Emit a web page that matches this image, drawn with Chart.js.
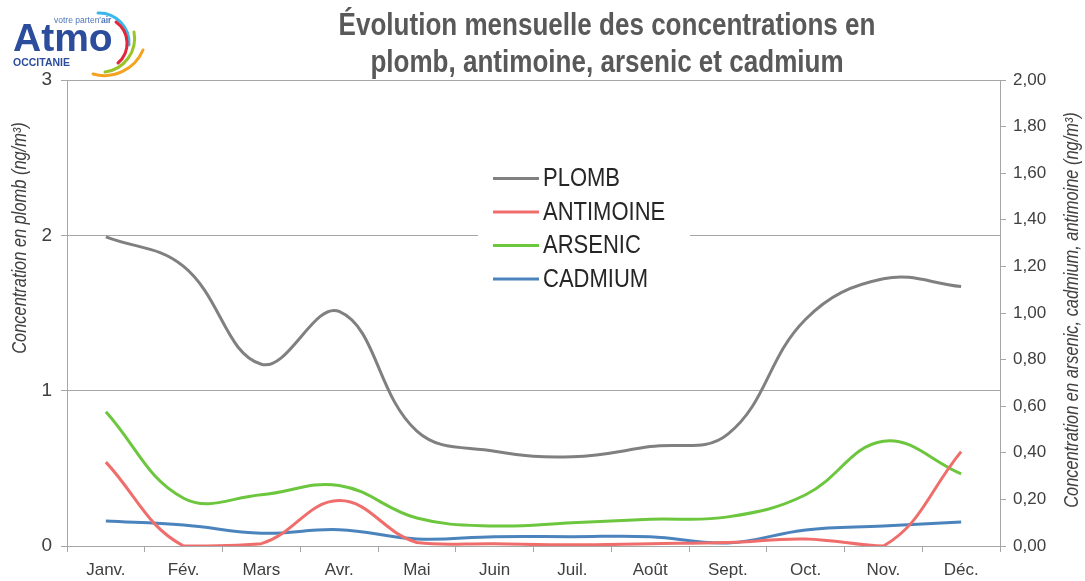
<!DOCTYPE html>
<html lang="fr">
<head>
<meta charset="utf-8">
<script src="https://cdn.jsdelivr.net/npm/chart.js@4"></script>
<style>
  html, body { margin: 0; padding: 0; background: #fff; }
  #wrap { position: relative; width: 1085px; height: 581px; }
  #chart { position: absolute; left: 0; top: 0; }
  #title {
    position: absolute; left: 207px; top: 6px; width: 800px;
    text-align: center; color: #595959; white-space: nowrap;
    font: bold 31px "Liberation Sans", sans-serif;
    line-height: 37px;
    transform: scaleX(0.84); transform-origin: 50% 0;
  }
  #logo { position: absolute; left: 0; top: 0; }
</style>
</head>
<body>
<div id="wrap">
  <canvas id="chart" width="1085" height="581"></canvas>
  <svg id="logo" width="160" height="85" viewBox="0 0 160 85">
    <path d="M98 13 A30 30 0 0 1 129 45" fill="none" stroke="#3bb8e8" stroke-width="3" stroke-linecap="round"/>
    <path d="M116 22 A26 26 0 0 1 118 63" fill="none" stroke="#e3263c" stroke-width="3" stroke-linecap="round"/>
    <path d="M134 32 A34 34 0 0 1 105 72" fill="none" stroke="#9ac52a" stroke-width="3" stroke-linecap="round"/>
    <path d="M143 50 A42 42 0 0 1 93 74" fill="none" stroke="#f4a21f" stroke-width="3" stroke-linecap="round"/>
    <text x="13" y="51" font-family="Liberation Sans, sans-serif" font-weight="bold" font-size="39" fill="#2c4d9c">Atmo</text>
    <text x="54" y="23" font-family="Liberation Sans, sans-serif" font-size="8.5" fill="#4d75bb">votre parten'<tspan font-weight="bold">air</tspan></text>
    <text x="13" y="66" font-family="Liberation Sans, sans-serif" font-weight="bold" font-size="10.5" fill="#2c4d9c">OCCITANIE</text>
  </svg>
  <div id="title">Évolution mensuelle des concentrations en<br>plomb, antimoine, arsenic et cadmium</div>
</div>
<script>
// --- data ---
const months = ['Janv.', 'Fév.', 'Mars', 'Avr.', 'Mai', 'Juin', 'Juil.', 'Août', 'Sept.', 'Oct.', 'Nov.', 'Déc.'];
const plomb = [1.99, 1.80, 1.17, 1.51, 0.74, 0.61, 0.575, 0.64, 0.72, 1.46, 1.72, 1.67];
const antimoine = [0.36, 0.0, 0.01, 0.195, 0.015, 0.01, 0.005, 0.01, 0.015, 0.03, 0.0, 0.405];
const arsenic = [0.576, 0.205, 0.22, 0.26, 0.12, 0.086, 0.10, 0.115, 0.125, 0.22, 0.45, 0.31];
const cadmium = [0.107, 0.09, 0.055, 0.07, 0.03, 0.04, 0.04, 0.04, 0.013, 0.069, 0.086, 0.103];
const leftTicks = [0, 1, 2, 3];
const rightTicks = [0, 0.2, 0.4, 0.6, 0.8, 1.0, 1.2, 1.4, 1.6, 1.8, 2.0];

const FONT = '"Liberation Sans", sans-serif';
const AXIS = '#a6a6a6';
const TEXT = '#404040';

// legend box drawn inside the plot, over the gridline at 2
const legendBox = {
  id: 'legendBox',
  afterDraw(chart) {
    const ctx = chart.ctx;
    ctx.save();
    ctx.fillStyle = '#fff';
    ctx.fillRect(478, 160, 212, 138);
    ctx.font = '25px ' + FONT;
    ctx.textBaseline = 'middle';
    chart.data.datasets.forEach((ds, i) => {
      const y = 178.5 + i * 33.5;
      ctx.strokeStyle = ds.borderColor;
      ctx.lineWidth = 3;
      ctx.beginPath();
      ctx.moveTo(493, y);
      ctx.lineTo(539, y);
      ctx.stroke();
      // narrow look of the original font
      ctx.save();
      ctx.translate(543, y + 1);
      ctx.scale(0.88, 1);
      ctx.fillStyle = '#262626';
      ctx.fillText(ds.label, 0, 0);
      ctx.restore();
    });
    ctx.restore();
  }
};

// rotated axis titles
function drawVertical(ctx, text, x, y) {
  ctx.save();
  ctx.fillStyle = TEXT;
  ctx.font = 'italic 20px ' + FONT;
  ctx.textAlign = 'center';
  ctx.textBaseline = 'middle';
  ctx.translate(x, y);
  ctx.rotate(-Math.PI / 2);
  ctx.scale(0.82, 1);
  ctx.fillText(text, 0, 0);
  ctx.restore();
}

const axisTitles = {
  id: 'axisTitles',
  afterDraw(chart) {
    drawVertical(chart.ctx, 'Concentration en plomb (ng/m³)', 20, 238);
    drawVertical(chart.ctx, 'Concentration en arsenic, cadmium, antimoine (ng/m³)', 1072, 310);
  }
};

const line = (label, data, color, axis) => ({
  label, data, yAxisID: axis,
  borderColor: color, backgroundColor: color,
  borderWidth: 3, pointRadius: 0, tension: 0.4, fill: false
});

new Chart(document.getElementById('chart'), {
  type: 'line',
  data: {
    labels: months,
    datasets: [
      line('PLOMB', plomb, '#808080', 'y'),
      line('ANTIMOINE', antimoine, '#ef6e6c', 'y1'),
      line('ARSENIC', arsenic, '#6cc63e', 'y1'),
      line('CADMIUM', cadmium, '#4b84bd', 'y1')
    ]
  },
  options: {
    responsive: false,
    animation: false,
    layout: { padding: { top: 80, left: 0, right: 0, bottom: 0 } },
    plugins: { legend: { display: false }, tooltip: { enabled: false } },
    scales: {
      x: {
        offset: true,
        grid: { offset: true, drawOnChartArea: false, color: AXIS, tickLength: 6 },
        border: { color: AXIS },
        ticks: { color: TEXT, font: { family: FONT, size: 17 }, padding: 8, maxRotation: 0 },
        afterFit: s => { s.height = 35; }
      },
      y: {
        position: 'left',
        min: 0, max: 3,
        afterBuildTicks: s => { s.ticks = leftTicks.map(v => ({ value: v })); },
        grid: { color: AXIS, tickLength: 6 },
        border: { color: AXIS },
        ticks: { color: TEXT, font: { family: FONT, size: 19 }, padding: 9 },
        afterFit: s => { s.width = 67; }
      },
      y1: {
        position: 'right',
        min: 0, max: 2,
        afterBuildTicks: s => { s.ticks = rightTicks.map(v => ({ value: v })); },
        grid: { drawOnChartArea: false, color: AXIS, tickLength: 6 },
        border: { color: AXIS },
        ticks: {
          color: TEXT, font: { family: FONT, size: 17 }, padding: 7,
          callback: v => v.toFixed(2).replace('.', ',')
        },
        afterFit: s => { s.width = 85; }
      }
    }
  },
  plugins: [legendBox, axisTitles]
});
</script>
</body>
</html>
